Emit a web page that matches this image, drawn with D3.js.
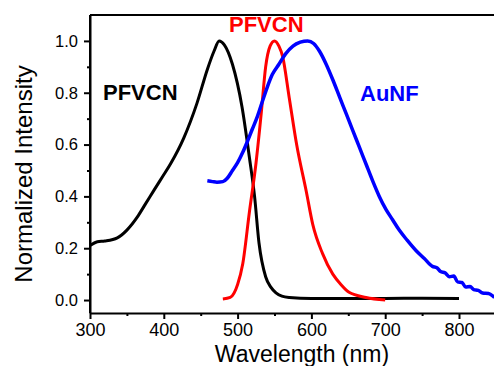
<!DOCTYPE html>
<html>
<head>
<meta charset="utf-8">
<script src="https://cdn.jsdelivr.net/npm/d3@7"></script>
<style>
  body { margin: 0; background: #fff; }
  svg { display: block; font-family: "Liberation Sans", Arial, sans-serif; }
</style>
</head>
<body>
<div id="chart"></div>
<script>
// PFVCN absorption (black)
const absWl  = [300, 310, 320, 337, 350, 364, 375, 387, 398, 409, 427, 445, 459, 468, 475, 482, 493, 506, 516, 523, 529, 538, 545, 552, 560, 570, 600, 650, 700, 750, 800];
const absVal = [0.21, 0.225, 0.228, 0.24, 0.27, 0.32, 0.37, 0.425, 0.475, 0.525, 0.625, 0.76, 0.89, 0.96, 1.0, 0.985, 0.91, 0.745, 0.55, 0.40, 0.22, 0.09, 0.05, 0.028, 0.015, 0.01, 0.006, 0.006, 0.006, 0.007, 0.006];

// PFVCN emission (red)
const emWl  = [480, 490, 500, 507, 516, 525, 532, 538, 544, 550, 556, 561, 570, 580, 593, 602, 615, 629, 640, 651, 674, 700];
const emVal = [0.004, 0.01, 0.06, 0.14, 0.34, 0.53, 0.72, 0.90, 0.98, 1.0, 0.98, 0.94, 0.78, 0.60, 0.42, 0.29, 0.18, 0.10, 0.06, 0.03, 0.01, 0.0];

// AuNF (blue)
const auWl  = [459, 466, 472, 480, 486, 493, 500, 507, 513, 520, 527, 534, 540, 547, 556, 565, 575, 585, 595, 603, 611, 620, 629, 638, 647, 656, 665, 674, 683, 692, 701, 710, 719, 730, 742, 753, 764, 770, 775, 781, 787, 793, 798, 804, 809, 815, 820, 826, 832, 840, 848];
const auVal = [0.46, 0.457, 0.455, 0.457, 0.47, 0.50, 0.53, 0.57, 0.61, 0.66, 0.71, 0.77, 0.82, 0.87, 0.91, 0.95, 0.98, 0.995, 1.0, 0.99, 0.96, 0.91, 0.85, 0.785, 0.72, 0.655, 0.59, 0.525, 0.46, 0.40, 0.35, 0.31, 0.27, 0.23, 0.19, 0.16, 0.13, 0.125, 0.11, 0.105, 0.09, 0.093, 0.07, 0.068, 0.05, 0.052, 0.04, 0.037, 0.027, 0.025, 0.01];

const xTicks = [300, 400, 500, 600, 700, 800];
const yTicks = [0.0, 0.2, 0.4, 0.6, 0.8, 1.0];

const width = 494, height = 366;
const margin = {left: 90, top: 15, bottom: 53};

const svg = d3.select('#chart').append('svg')
    .attr('width', width)
    .attr('height', height);

const x = d3.scaleLinear().domain([300, 850]).range([margin.left, margin.left + 550 * 0.738]);
const y = d3.scaleLinear().domain([-0.05, 1.1]).range([height - margin.bottom, margin.top]);

const zip = (a, b) => a.map((v, i) => [v, b[i]]);
const line = d3.line().x(d => x(d[0])).y(d => y(d[1])).curve(d3.curveMonotoneX);

// curves
svg.append('path').datum(zip(absWl, absVal))
    .attr('d', line).attr('fill', 'none').attr('stroke', '#000').attr('stroke-width', 3);
svg.append('path').datum(zip(emWl, emVal))
    .attr('d', line).attr('fill', 'none').attr('stroke', '#ff0000').attr('stroke-width', 3);
svg.append('path').datum(zip(auWl, auVal))
    .attr('d', line).attr('fill', 'none').attr('stroke', '#0000ff').attr('stroke-width', 3.5);

// axes
const xAxis = svg.append('g')
    .attr('transform', `translate(0,${y.range()[0]})`)
    .call(d3.axisBottom(x).tickValues(xTicks).tickFormat(d3.format('d')).tickSize(6).tickSizeOuter(0));
svg.append('g')
    .attr('transform', `translate(0,${y.range()[0]})`)
    .call(d3.axisBottom(x).tickValues(d3.range(350, 850, 100)).tickFormat('').tickSize(3).tickSizeOuter(0))
    .call(g => g.select('.domain').remove());

const yAxis = svg.append('g')
    .attr('transform', `translate(${margin.left},0)`)
    .call(d3.axisLeft(y).tickValues(yTicks).tickFormat(d3.format('.1f')).tickSize(6).tickSizeOuter(0));
svg.append('g')
    .attr('transform', `translate(${margin.left},0)`)
    .call(d3.axisLeft(y).tickValues([0.1, 0.3, 0.5, 0.7, 0.9]).tickFormat('').tickSize(3).tickSizeOuter(0))
    .call(g => g.select('.domain').remove());

svg.selectAll('.domain').attr('stroke', '#000').attr('stroke-width', 2);
svg.selectAll('.tick line').attr('stroke', '#000').attr('stroke-width', 2);

xAxis.selectAll('text')
    .attr('font-size', 18).attr('fill', '#000').attr('font-family', '"Liberation Sans", Arial, sans-serif')
    .attr('y', 10);
yAxis.selectAll('text')
    .attr('font-size', 16.5).attr('fill', '#000').attr('font-family', '"Liberation Sans", Arial, sans-serif')
    .attr('x', -12);

// top frame
svg.append('line')
    .attr('x1', margin.left).attr('x2', x(850))
    .attr('y1', y.range()[1]).attr('y2', y.range()[1])
    .attr('stroke', '#000').attr('stroke-width', 2);
svg.append('line')
    .attr('x1', margin.left).attr('x2', margin.left)
    .attr('y1', y.range()[1]).attr('y2', y.range()[0])
    .attr('stroke', '#000').attr('stroke-width', 2);

// titles
svg.append('text')
    .attr('x', 302).attr('y', 361.5)
    .attr('text-anchor', 'middle').attr('font-size', 23)
    .text('Wavelength (nm)');
svg.append('text')
    .attr('transform', 'translate(32,174) rotate(-90)')
    .attr('text-anchor', 'middle').attr('font-size', 24)
    .text('Normalized Intensity');

// labels
const labels = [
  {t: 'PFVCN', x: 103, y: 100, c: '#000'},
  {t: 'PFVCN', x: 229, y: 32, c: '#ff0000'},
  {t: 'AuNF', x: 360, y: 101, c: '#0000ff'}
];
svg.selectAll('.lbl').data(labels).join('text')
    .attr('class', 'lbl')
    .attr('x', d => d.x).attr('y', d => d.y)
    .attr('font-size', 22).attr('font-weight', 'bold')
    .attr('fill', d => d.c)
    .text(d => d.t);
</script>
</body>
</html>
